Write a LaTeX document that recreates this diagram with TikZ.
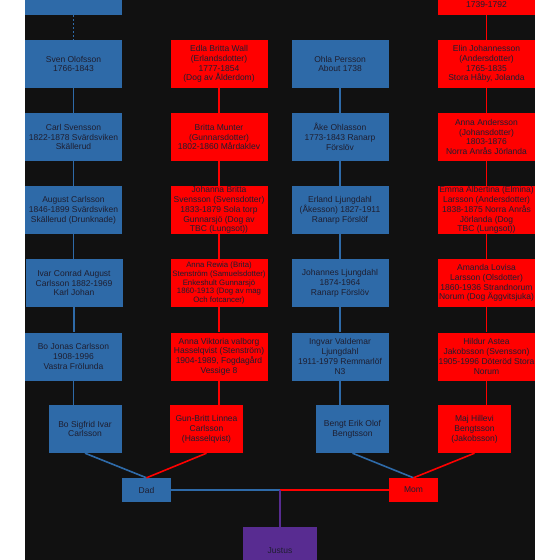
\documentclass[tikz,border=0pt]{standalone}
\usepackage{fontspec}
\setmainfont{Liberation Sans}
\usepackage{xcolor}
\usetikzlibrary{positioning}

\definecolor{famblue}{RGB}{46,106,168}
\definecolor{famred}{RGB}{255,0,0}
\definecolor{fampurple}{RGB}{88,44,145}
\definecolor{bgdark}{RGB}{17,17,17}
\definecolor{inkdark}{RGB}{30,30,48}

\begin{document}
\begin{tikzpicture}[x=1pt,y=-1pt,
    person/.style={minimum width=97pt, minimum height=48pt, inner sep=0.5pt,
        align=center, text=inkdark, font=\fontsize{8.5}{9.8}\selectfont},
    male/.style={person, fill=famblue},
    female/.style={person, fill=famred},
    narrow/.style={minimum width=73pt},
    tiny/.style={font=\fontsize{7.8}{8.9}\selectfont},
    bline/.style={famblue, line width=1.6pt},
    rline/.style={famred, line width=1.6pt},
    pline/.style={fampurple, line width=1.5pt}]
    \useasboundingbox (0,0) rectangle (560,560);
    \clip (0,0) rectangle (560,560);
    \fill[white] (0,0) rectangle (560,560);
    \fill[bgdark] (25,0) rectangle (535,560);

    % top row, cut off
    \node[male] (topleft) at (73.5,-9) {};
    \node[female] (topright) at (486.5,-9) {};
    \node[text=inkdark, font=\fontsize{8.5}{9.8}\selectfont]
        (toprightdates) at (486.5,5) {1739-1792};

    % row 1
    \node[male] (sven) at (73.5,64) {Sven Olofsson\\1766-1843};
    \node[female] (edla) at (219,64)
        {Edla Britta Wall\\(Erlandsdotter)\\1777-1854\\(Dog av Ålderdom)};
    \node[male] (ohla) at (340,64) {Ohla Persson\\About 1738};
    \node[female] (elin) at (486.5,64)
        {Elin Johannesson\\(Andersdotter)\\1765-1835\\Stora Håby, Jolanda};

    % row 2
    \node[male] (carl) at (73.5,137)
        {Carl Svensson\\1822-1878 Svärdsviken\\Skällerud};
    \node[female] (britta) at (219,137)
        {Britta Munter\\(Gunnarsdotter)\\1802-1860 Mårdaklev};
    \node[male] (ake) at (340,137) {Åke Ohlasson\\1773-1843 Ranarp\\Förslöv};
    \node[female] (anna) at (486.5,137)
        {Anna Andersson\\(Johansdotter)\\1803-1876\\Norra Anrås Jörlanda};

    % row 3
    \node[male] (august) at (73.5,210)
        {August Carlsson\\1846-1899 Svärdsviken\\Skällerud (Drunknade)};
    \node[female] (johanna) at (219,210)
        {Johanna Britta\\Svensson (Svensdotter)\\1833-1879 Sola torp\\Gunnarsjö (Dog av\\TBC (Lungsot))};
    \node[male] (erland) at (340,210)
        {Erland Ljungdahl\\(Åkesson) 1827-1911\\Ranarp Förslöf};
    \node[female] (emma) at (486.5,210)
        {Emma Albertina (Elmina)\\Larsson (Andersdotter)\\1838-1875 Norra Anrås\\Jörlanda (Dog\\TBC (Lungsot))};

    % row 4
    \node[male] (ivar) at (74,283)
        {Ivar Conrad August\\Carlsson 1882-1969\\Karl Johan};
    \node[female, tiny] (rewia) at (219,283)
        {Anna Rewia (Brita)\\Stenström (Samuelsdotter)\\Enkeshult Gunnarsjö\\1860-1913 (Dog av mag\\Och fotcancer)};
    \node[male] (johannes) at (340,283)
        {Johannes Ljungdahl\\1874-1964\\Ranarp Förslöv};
    \node[female] (amanda) at (486.5,283)
        {Amanda Lovisa\\Larsson (Olsdotter)\\1860-1936 Strandnorum\\Norum (Dog Äggvitsjuka)};

    % row 5
    \node[male] (bojonas) at (73.5,356.5)
        {Bo Jonas Carlsson\\1908-1996\\Vastra Frölunda};
    \node[female] (viktoria) at (219,356.5)
        {Anna Viktoria valborg\\Hasselqvist (Stenström)\\1904-1989, Fogdagård\\Vessige 8};
    \node[male] (ingvar) at (340,356.5)
        {Ingvar Valdemar\\Ljungdahl\\1911-1979 Remmarlöf\\N3};
    \node[female] (hildur) at (486.5,356.5)
        {Hildur Astea\\Jakobsson (Svensson)\\1905-1996 Döteröd Stora\\Norum};

    % row 6
    \node[male, narrow] (bosigfrid) at (85,429) {Bo Sigfrid Ivar\\Carlsson};
    \node[female, narrow] (gunbritt) at (206.5,429)
        {Gun-Britt Linnea\\Carlsson\\(Hasselqvist)};
    \node[male, narrow] (bengt) at (352.5,429) {Bengt Erik Olof\\Bengtsson};
    \node[female, narrow] (maj) at (474.5,429)
        {Maj Hillevi\\Bengtsson\\(Jakobsson)};

    % parents and child
    \node[male, minimum width=49pt, minimum height=24pt] (dad) at (146.5,490) {Dad};
    \node[female, minimum width=49pt, minimum height=24pt] (mom) at (413.5,490) {Mom};
    \node[person, fill=fampurple, minimum width=74pt] (justus) at (280,551) {Justus};

    % lines of descent
    \draw[bline, dash pattern=on 2pt off 2pt] (topleft) -- (sven);
    \draw[rline] (topright) -- (elin);
    \foreach \up/\down in {sven/carl, carl/august, august/ivar, ivar/bojonas,
            ohla/ake, ake/erland, erland/johannes, johannes/ingvar}
        \draw[bline] (\up.south) -- (\up.south |- \down.north);
    \foreach \up/\down in {edla/britta, britta/johanna, johanna/rewia, rewia/viktoria,
            elin/anna, anna/emma, emma/amanda, amanda/hildur}
        \draw[rline] (\up.south) -- (\up.south |- \down.north);
    \draw[bline] (bojonas.south) -- (bojonas.south |- bosigfrid.north);
    \draw[rline] (viktoria.south) -- (viktoria.south |- gunbritt.north);
    \draw[bline] (ingvar.south) -- (ingvar.south |- bengt.north);
    \draw[rline] (hildur.south) -- (hildur.south |- maj.north);

    \draw[bline] (bosigfrid.south) -- (dad.north);
    \draw[rline] (gunbritt.south) -- (dad.north);
    \draw[bline] (bengt.south) -- (mom.north);
    \draw[rline] (maj.south) -- (mom.north);

    \coordinate (union) at (dad.east -| justus.north);
    \draw[bline, line width=1.3pt] (dad.east) -- (union);
    \draw[rline, line width=1.3pt] (mom.west) -- (union);
    \draw[pline] (union) -- (justus.north);
\end{tikzpicture}
\end{document}
